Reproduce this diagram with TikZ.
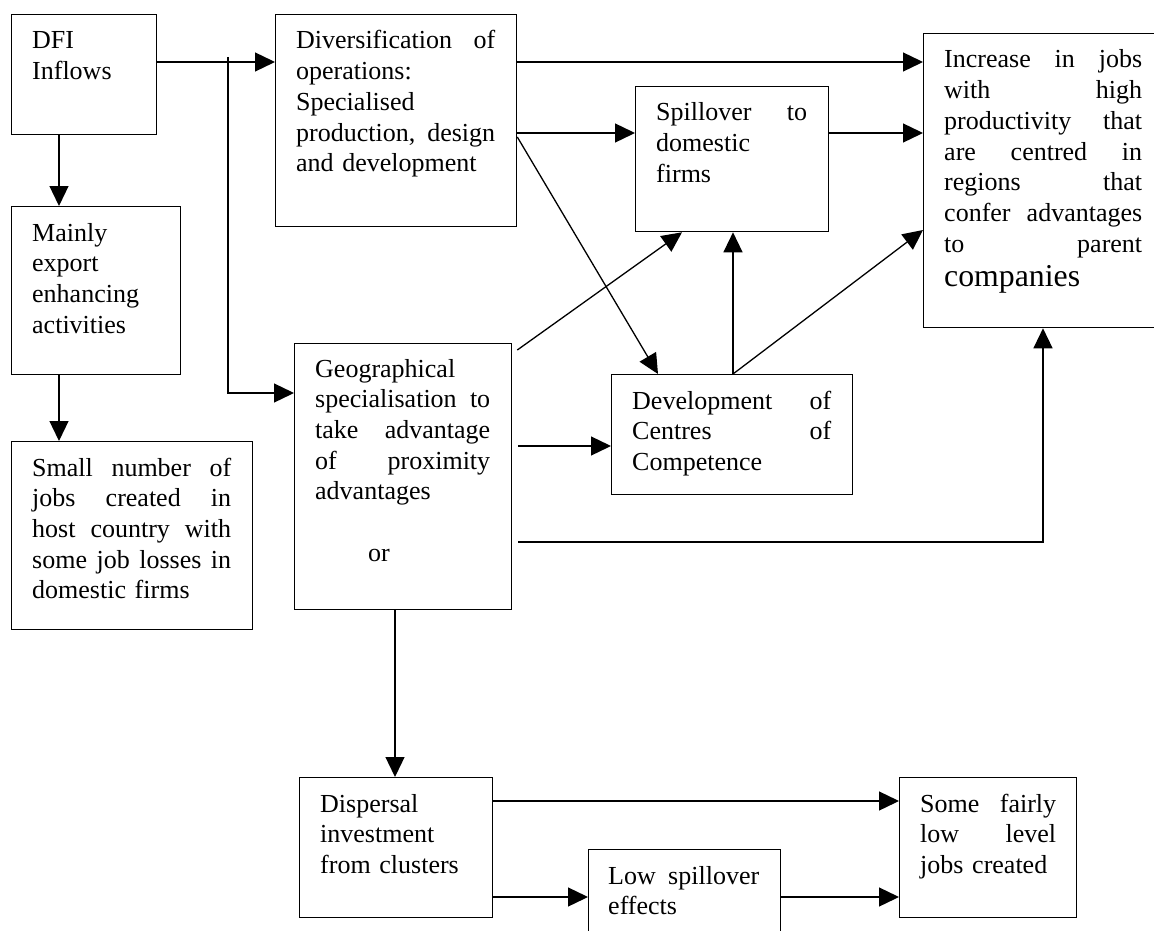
\documentclass[tikz,border=0pt]{standalone}
\usepackage{fontspec}
\setmainfont{Liberation Serif}
\usetikzlibrary{arrows.meta}
\newcommand\jl[2]{\leavevmode\hbox to #1{\spaceskip=\fontdimen2\font plus 1fil\relax #2}}
\begin{document}
\begin{tikzpicture}[x=1pt,y=-1pt,
  box/.style={draw, line width=1.3pt, inner sep=0pt, anchor=north west},
  txt/.style={inner sep=0pt, anchor=base west, align=left, text width=#1,
    font=\fontsize{26}{30.7}\selectfont},
  arr/.style={line width=1.3pt, -{Triangle[length=20pt,width=19pt]}}]
\useasboundingbox (0,0) rectangle (1154,931);
\clip (0,0) rectangle (1154,931);
\fill[white] (0,0) rectangle (1154,931);
% boxes
\node[box, minimum width=145pt, minimum height=120pt] (dfi) at (11,14) {};
\node[box, minimum width=169pt, minimum height=168pt] (mainly) at (11,206) {};
\node[box, minimum width=241pt, minimum height=188pt] (small) at (11,441) {};
\node[box, minimum width=241pt, minimum height=212pt] (div) at (275,14) {};
\node[box, minimum width=193pt, minimum height=145pt] (spill) at (635,86) {};
\node[box, minimum width=240pt, minimum height=294pt] (inc) at (923,33) {};
\node[box, minimum width=217pt, minimum height=266pt] (geo) at (294,343) {};
\node[box, minimum width=241pt, minimum height=120pt] (dev) at (611,374) {};
\node[box, minimum width=193pt, minimum height=140pt] (disp) at (299,777) {};
\node[box, minimum width=192pt, minimum height=110pt] (low) at (588,849) {};
\node[box, minimum width=177pt, minimum height=140pt] (some) at (899,777) {};
% texts
\node[txt=103pt] (dfiT) at ([shift={(21pt,-35pt)}]dfi.north west) {DFI\\Inflows};
\node[txt=127pt] (mainlyT) at ([shift={(21pt,-35pt)}]mainly.north west) {Mainly\\export\\enhancing\\activities};
\node[txt=199pt] (smallT) at ([shift={(21pt,-35pt)}]small.north west) {\jl{199pt}{Small number of}\\\jl{199pt}{jobs created in}\\\jl{199pt}{host country with}\\\jl{199pt}{some job losses in}\\domestic firms};
\node[txt=199pt] (divT) at ([shift={(21pt,-35pt)}]div.north west) {\jl{199pt}{Diversification of}\\operations:\\Specialised\\\jl{199pt}{production, design}\\and development};
\node[txt=151pt] (spillT) at ([shift={(21pt,-35pt)}]spill.north west) {\jl{151pt}{Spillover to}\\domestic\\firms};
\node[txt=198pt] (incT) at ([shift={(21pt,-35pt)}]inc.north west) {\jl{198pt}{Increase in jobs}\\\jl{198pt}{with high}\\\jl{198pt}{productivity that}\\\jl{198pt}{are centred in}\\\jl{198pt}{regions that}\\\jl{198pt}{confer advantages}\\\jl{198pt}{to parent}\\[3.8pt]{\fontsize{31.8}{34}\selectfont companies}};
\node[txt=175pt] (geoT) at ([shift={(21pt,-34pt)}]geo.north west) {Geographical\\\jl{175pt}{specialisation to}\\\jl{175pt}{take advantage}\\\jl{175pt}{of proximity}\\advantages\\~\\\hspace*{53pt}or};
\node[txt=199pt] (devT) at ([shift={(21pt,-35pt)}]dev.north west) {\jl{199pt}{Development of}\\\jl{199pt}{Centres of}\\Competence};
\node[txt=151pt] (dispT) at ([shift={(21pt,-35pt)}]disp.north west) {Dispersal\\investment\\from clusters};
\node[txt=151pt] (lowT) at ([shift={(20pt,-35pt)}]low.north west) {\jl{151pt}{Low spillover}\\effects};
\node[txt=136pt] (someT) at ([shift={(21pt,-35pt)}]some.north west) {\jl{136pt}{Some fairly}\\\jl{136pt}{low level}\\jobs created};
% connectors
\coordinate (br) at (228,57);
\draw[arr] ([yshift=-48pt]dfi.north east) -- ([yshift=-48pt]div.north west);
\draw[arr] (br) |- ([yshift=-50pt]geo.north west);
\draw[arr] ([xshift=48pt]dfi.south west) -- ([xshift=48pt]mainly.north west);
\draw[arr] ([xshift=48pt]mainly.south west) -- ([xshift=48pt]small.north west);
\draw[arr] ([yshift=-48pt]div.north east) -- ([yshift=-29pt]inc.north west);
\draw[arr] ([yshift=-119pt]div.north east) -- ([yshift=-47pt]spill.north west);
\draw[arr] ([yshift=-123pt]div.north east) -- ([xshift=47pt]dev.north west);
\draw[arr] ([yshift=-47pt]spill.north east) -- ([yshift=-100pt]inc.north west);
\draw[arr] ([shift={(5pt,-7pt)}]geo.north east) -- ([xshift=47pt]spill.south west);
\draw[arr] ([xshift=122pt]dev.north west) -- ([xshift=122pt]dev.north west |- spill.south);
\draw[arr] ([xshift=122pt]dev.north west) -- ([yshift=-197pt]inc.north west);
\draw[arr] ([shift={(6pt,-103pt)}]geo.north east) -- ([yshift=-72pt]dev.north west);
\draw[arr] ([shift={(6pt,-199pt)}]geo.north east) -| ([xshift=120pt]inc.south west);
\draw[arr] ([xshift=101pt]geo.south west) -- ([xshift=96pt]disp.north west);
\draw[arr] ([yshift=-24pt]disp.north east) -- ([yshift=-24pt]some.north west);
\draw[arr] ([yshift=-120pt]disp.north east) -- ([yshift=-48pt]low.north west);
\draw[arr] ([yshift=-48pt]low.north east) -- ([yshift=-120pt]some.north west);
\end{tikzpicture}
\end{document}
